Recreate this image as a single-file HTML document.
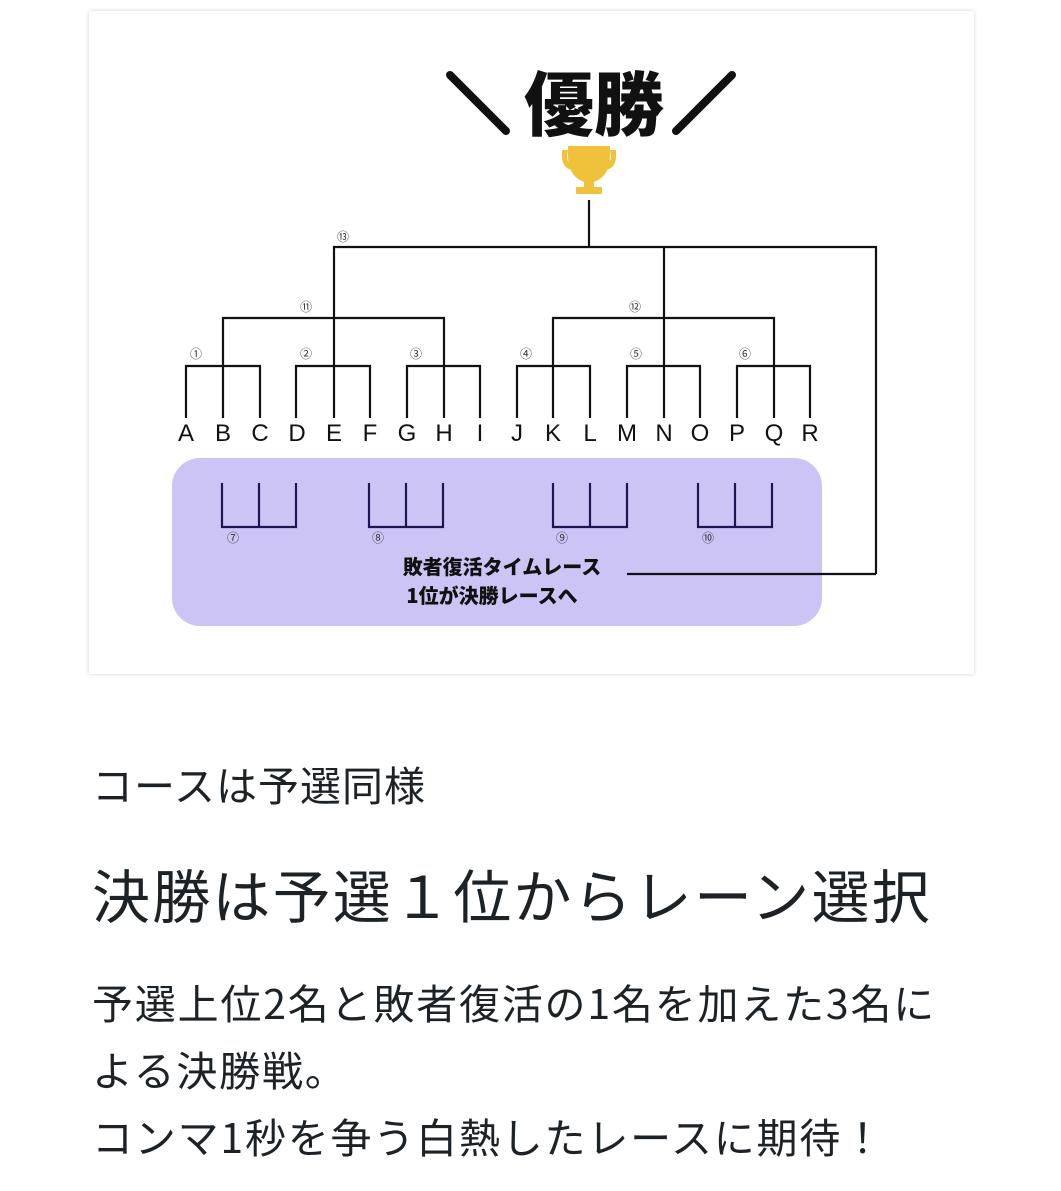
<!DOCTYPE html>
<html><head><meta charset="utf-8"><style>
body{margin:0;width:1061px;height:1191px;background:#fff;position:relative;overflow:hidden;font-family:"Liberation Sans","Noto Sans CJK JP",sans-serif;color:#1c2226}
.card{position:absolute;left:89px;top:11px;width:885px;height:663px;background:#fff;box-shadow:0 0 4px rgba(0,0,0,0.18)}
.t{position:absolute;left:92px;white-space:nowrap;font-family:"Noto Sans CJK JP",sans-serif}
</style></head><body>
<div class="card"></div>
<svg style="position:absolute;left:0;top:0" width="1061" height="700" font-family="Liberation Sans, Noto Sans CJK JP, sans-serif">
<text x="594" y="130" text-anchor="middle" font-size="70" font-weight="900" fill="#111" font-family="Noto Sans CJK JP, sans-serif">優勝</text>
<line x1="450" y1="75" x2="506" y2="131" stroke="#111" stroke-width="8" stroke-linecap="round"/>
<line x1="732" y1="75" x2="676" y2="131" stroke="#111" stroke-width="8" stroke-linecap="round"/>
<g fill="#f0c13a">
<path d="M568 146 h42 v10 q0 20 -16 26 v6 h-10 v-6 q-16 -6 -16 -26z"/>
<path d="M568 150 h-6 v6 q0 12 10 14 l2 -4 q-7 -2 -7 -10z"/>
<path d="M610 150 h6 v6 q0 12 -10 14 l-2 -4 q7 -2 7 -10z"/>
<rect x="576" y="187" width="26" height="7" rx="1"/>
</g>
<g stroke="#111" stroke-width="2.2" fill="none">
<path d="M589 200 V247"/>
<path d="M334 318 V247 H876 V574"/>
<path d="M664 247 V366"/>
<path d="M223 366 V318 H444 V366"/>
<path d="M334 318 V366"/>
<path d="M553 366 V318 H774 V366"/>
<path d="M186 418 V366 H260 V418 M223 366 V418"/>
<path d="M296 418 V366 H370 V418 M334 366 V418"/>
<path d="M407 418 V366 H480 V418 M444 366 V418"/>
<path d="M517 418 V366 H590 V418 M553 366 V418"/>
<path d="M627 418 V366 H700 V418 M664 366 V418"/>
<path d="M737 418 V366 H810 V418 M774 366 V418"/>
</g>
<g font-size="24" fill="#111" text-anchor="middle">
<text x="186" y="441">A</text><text x="223" y="441">B</text><text x="260" y="441">C</text><text x="297" y="441">D</text><text x="334" y="441">E</text><text x="370" y="441">F</text><text x="407" y="441">G</text><text x="444" y="441">H</text><text x="480" y="441">I</text><text x="517" y="441">J</text><text x="553" y="441">K</text><text x="590" y="441">L</text><text x="627" y="441">M</text><text x="664" y="441">N</text><text x="700" y="441">O</text><text x="737" y="441">P</text><text x="774" y="441">Q</text><text x="810" y="441">R</text>
</g>
<g font-size="12" fill="#333" text-anchor="middle" font-family="Noto Sans CJK JP, sans-serif">
<text x="196" y="358">①</text><text x="306" y="358">②</text><text x="416" y="358">③</text><text x="526" y="358">④</text><text x="636" y="358">⑤</text><text x="745" y="358">⑥</text>
<text x="306" y="311">⑪</text><text x="635" y="311">⑫</text><text x="343" y="241">⑬</text>
</g>
<rect x="172" y="458" width="650" height="168" rx="28" fill="#cdc4f6"/>
<path d="M876 574 H627" stroke="#111" stroke-width="2.2"/>
<g stroke="#1e1650" stroke-width="2.2" fill="none">
<path d="M222 483 V527 H296 V483 M259 483 V527"/>
<path d="M369 483 V527 H443 V483 M406 483 V527"/>
<path d="M553 483 V527 H627 V483 M590 483 V527"/>
<path d="M698 483 V527 H772 V483 M735 483 V527"/>
</g>
<g font-size="12" fill="#333" text-anchor="middle" font-family="Noto Sans CJK JP, sans-serif">
<text x="233" y="542">⑦</text><text x="378" y="542">⑧</text><text x="562" y="542">⑨</text><text x="708" y="542">⑩</text>
</g>
<g font-size="20" font-weight="900" fill="#111" text-anchor="middle" font-family="Noto Sans CJK JP, sans-serif">
<text x="502" y="574">敗者復活タイムレース</text>
<text x="492" y="603">1位が決勝レースへ</text>
</g>
</svg>
<div class="t" style="top:756px;font-size:41px;line-height:54px;letter-spacing:1px">コースは予選同様</div>
<div class="t" style="top:859px;font-size:58px;line-height:68px;letter-spacing:2.2px">決勝は予選１位からレーン選択</div>
<div class="t" style="top:968px;font-size:41px;line-height:67px;letter-spacing:1.8px">予選上位2名と敗者復活の1名を加えた3名に<br>よる決勝戦。<br>コンマ1秒を争う白熱したレースに期待！</div>
</body></html>
